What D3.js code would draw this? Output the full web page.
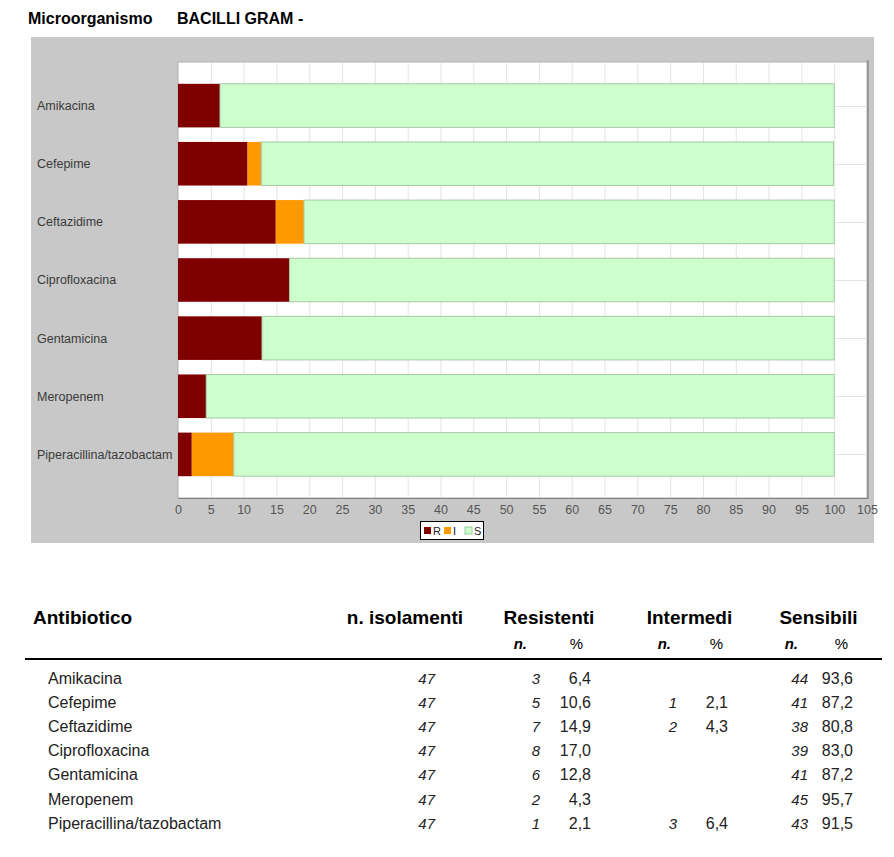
<!DOCTYPE html>
<html><head><meta charset="utf-8">
<script src="https://cdn.jsdelivr.net/npm/d3@7/dist/d3.min.js"></script>
<style>
body{margin:0;background:#fff;}
svg{display:block;}
</style></head>
<body>
<svg id="c" width="894" height="857"></svg>
<script>
const antibiotics = ["Amikacina","Cefepime","Ceftazidime","Ciprofloxacina","Gentamicina","Meropenem","Piperacillina/tazobactam"];
const isolates = [47,47,47,47,47,47,47];
const resN = [3,5,7,8,6,2,1];
const resPct = [6.4,10.6,14.9,17.0,12.8,4.3,2.1];
const intN = [null,1,2,null,null,null,3];
const intPct = [null,2.1,4.3,null,null,null,6.4];
const sensN = [44,41,38,39,41,45,43];
const sensPct = [93.6,87.2,80.8,83.0,87.2,95.7,91.5];
const xTicks = [0,5,10,15,20,25,30,35,40,45,50,55,60,65,70,75,80,85,90,95,100,105];
const seriesKeys = ["R","I","S"];
const seriesColors = ["#800000","#FF9900","#CCFFCC"];

const svg = d3.select("#c");
const sans = "'Liberation Sans', Arial, sans-serif";
const narrow = "'Liberation Sans Narrow', 'Arial Narrow', 'Liberation Sans', sans-serif";

// Title
svg.append("text").attr("x",28).attr("y",24).attr("font-family",sans).attr("font-weight","bold").attr("font-size",16).attr("fill","#000").text("Microorganismo");
svg.append("text").attr("x",177).attr("y",24).attr("font-family",sans).attr("font-weight","bold").attr("font-size",16).attr("fill","#000").text("BACILLI GRAM -");

// panel
svg.append("rect").attr("x",31).attr("y",37).attr("width",843).attr("height",506).attr("fill","#C8C8C8");

const x = d3.scaleLinear().domain([0,105]).range([178,867]);
const y = d3.scaleBand().domain(antibiotics).range([62,498]).paddingInner(0.25).paddingOuter(0.375);

// plot area
svg.append("rect").attr("x",x(0)).attr("y",62).attr("width",x(105)-x(0)).attr("height",436).attr("fill","#fff").attr("stroke","#b0b0b0").attr("stroke-width",1);
svg.append("line").attr("x1",x(105)+1).attr("x2",x(105)+1).attr("y1",60).attr("y2",499).attr("stroke","#9a9a9a").attr("stroke-width",2);

// grid
svg.append("g").selectAll("line").data(xTicks.slice(1,-1)).join("line")
  .attr("x1",d=>x(d)+0.5).attr("x2",d=>x(d)+0.5).attr("y1",63).attr("y2",497)
  .attr("stroke","#e4e4e4").attr("stroke-width",1);
svg.append("g").selectAll("line").data(antibiotics).join("line")
  .attr("x1",x(0)).attr("x2",x(105)).attr("y1",d=>Math.round(y(d)+y.bandwidth()/2)+0.5).attr("y2",d=>Math.round(y(d)+y.bandwidth()/2)+0.5)
  .attr("stroke","#e4e4e4").attr("stroke-width",1);

// stacked bars
const rows = antibiotics.map((a,i)=>({name:a, R:resPct[i], I:intPct[i]||0, S:sensPct[i]}));
const stacked = d3.stack().keys(seriesKeys)(rows);
svg.append("g").selectAll("g").data(stacked).join("g")
  .attr("fill",(d,i)=>seriesColors[i])
  .attr("stroke",(d,i)=> i===2 ? "#a8c8a8" : "none")
  .attr("stroke-width",1)
  .selectAll("rect").data(d=>d.filter(p=>p[1]-p[0]>0)).join("rect")
  .attr("x",d=>x(d[0])).attr("width",d=>x(d[1])-x(d[0]))
  .attr("y",d=>y(d.data.name)).attr("height",y.bandwidth());

// x axis
const xAxis = svg.append("g").attr("transform","translate(0,498)")
  .call(d3.axisBottom(x).tickValues(xTicks).tickSize(0).tickPadding(7).tickFormat(d3.format("d")));
xAxis.select(".domain").attr("stroke","#808080");
xAxis.selectAll("text").attr("font-family",narrow).attr("font-size",12.5).attr("fill","#555");

// y labels
svg.append("g").selectAll("text").data(antibiotics).join("text")
  .attr("x",37).attr("y",d=>y(d)+y.bandwidth()/2).attr("dy","0.35em")
  .attr("font-family",sans).attr("font-size",12.5).attr("fill","#3a3a3a").text(d=>d);

// legend
const lg = svg.append("g");
lg.append("rect").attr("x",420.5).attr("y",521.5).attr("width",63).attr("height",18).attr("fill","#fff").attr("stroke","#000");
const legX = [424,444,465];
seriesKeys.forEach((k,i)=>{
  lg.append("rect").attr("x",legX[i]).attr("y",527).attr("width",7).attr("height",7).attr("fill",seriesColors[i]).attr("stroke",i===2?"#9c9":"none");
  lg.append("text").attr("x",legX[i]+9).attr("y",534.5).attr("font-family",narrow).attr("font-size",11).attr("fill","#222").text(k);
});

// table
const fmt = v => v==null ? "" : v.toFixed(1).replace(".",",");
const th = svg.append("g").attr("font-family",sans).attr("font-weight","bold").attr("font-size",19).attr("fill","#000");
th.append("text").attr("x",33).attr("y",624).text("Antibiotico");
th.append("text").attr("x",463).attr("y",624).attr("text-anchor","end").text("n. isolamenti");
th.append("text").attr("x",549).attr("y",624).attr("text-anchor","middle").text("Resistenti");
th.append("text").attr("x",689.5).attr("y",624).attr("text-anchor","middle").text("Intermedi");
th.append("text").attr("x",818.5).attr("y",624).attr("text-anchor","middle").text("Sensibili");
const sub = svg.append("g").attr("font-family",sans).attr("font-size",15).attr("fill","#000").attr("text-anchor","end");
[[527,"n."],[583,"%"],[671,"n."],[723,"%"],[798,"n."],[848,"%"]].forEach(([px,t])=>{
  sub.append("text").attr("x",px).attr("y",649).attr("font-style",t==="%"?"normal":"italic").attr("font-weight",t==="%"?"normal":"bold").text(t);
});
svg.append("line").attr("x1",25).attr("x2",882).attr("y1",659).attr("y2",659).attr("stroke","#000").attr("stroke-width",2);

const tb = svg.append("g").attr("font-family",sans).attr("font-size",16).attr("fill","#222");
antibiotics.forEach((a,i)=>{
  const by = 684 + i*24.1;
  tb.append("text").attr("x",48).attr("y",by).text(a);
  const cells = [
    [435, isolates[i], true],
    [540, resN[i], true],
    [591, fmt(resPct[i]), false],
    [677, intN[i], true],
    [728, fmt(intPct[i]), false],
    [808, sensN[i], true],
    [853, fmt(sensPct[i]), false]
  ];
  cells.forEach(([px,v,it])=>{
    if(v==null || v==="") return;
    tb.append("text").attr("x",px).attr("y",by).attr("text-anchor","end")
      .attr("font-style",it?"italic":"normal").attr("font-size",it?15:16).text(v);
  });
});
</script>
</body></html>
